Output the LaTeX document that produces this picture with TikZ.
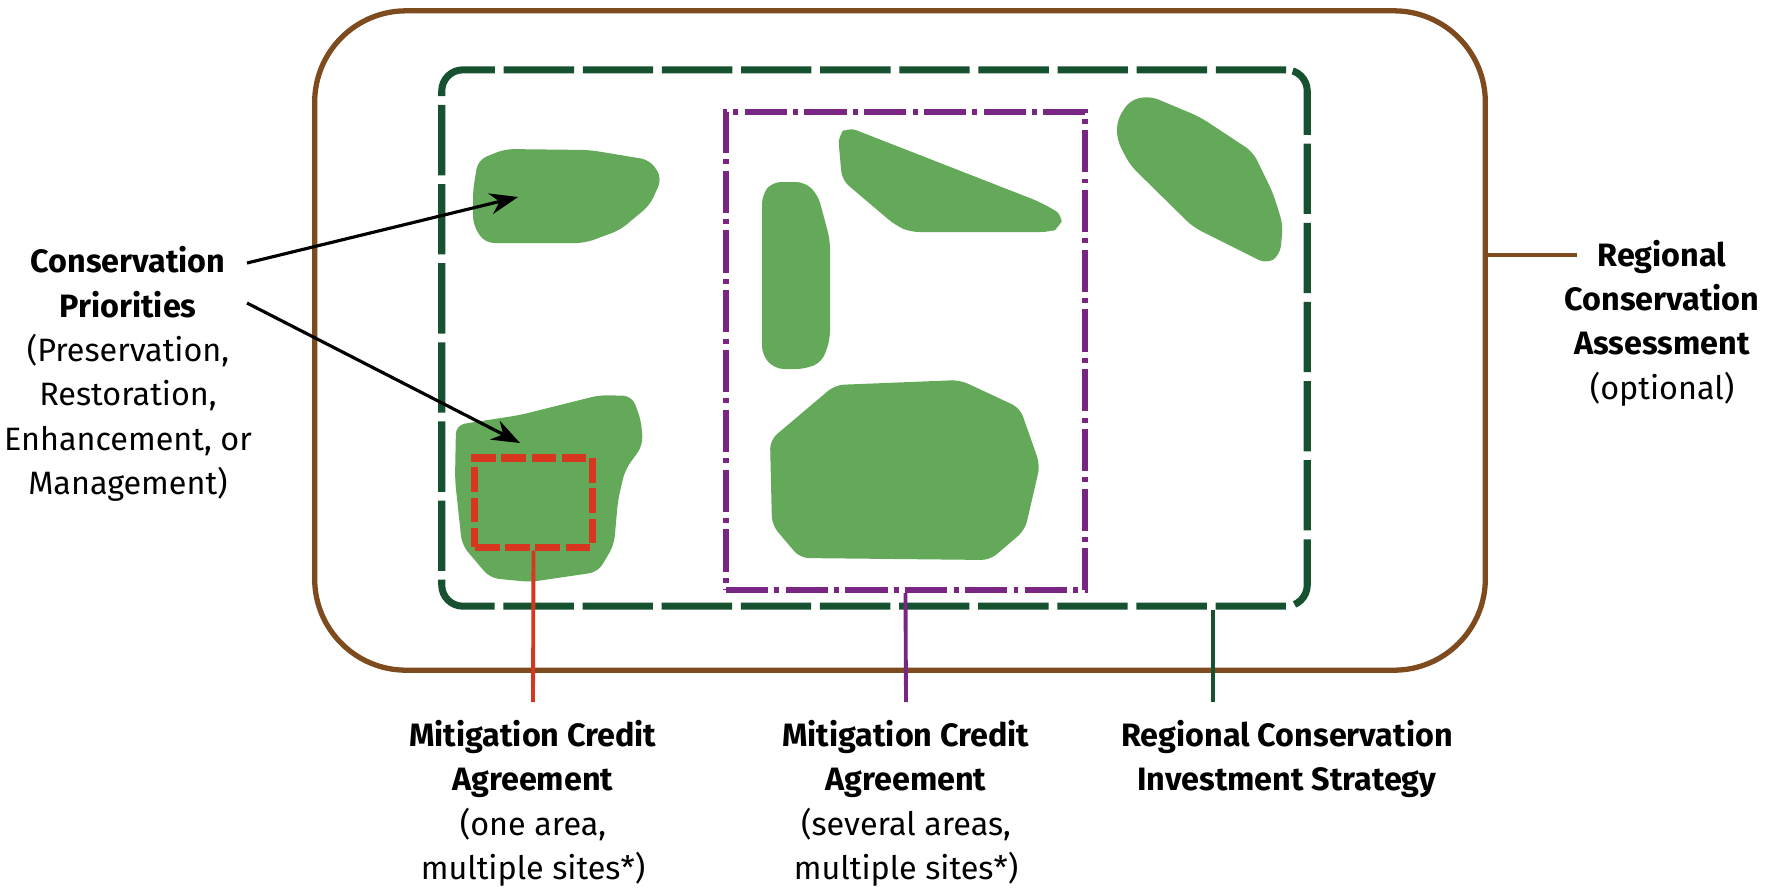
\documentclass[tikz,border=0pt]{standalone}
\usepackage{fontspec}
\setmainfont{Fira Sans}
\usepackage{tikz}
\usetikzlibrary{arrows.meta, positioning}
\definecolor{rcabrown}{RGB}{125,75,30}
\definecolor{rcisgreen}{RGB}{22,82,48}
\definecolor{mcapurple}{RGB}{120,38,130}
\definecolor{mcared}{RGB}{215,55,30}
\definecolor{areagreen}{RGB}{100,168,90}
\tikzset{
    region/.style={draw=rcabrown, line width=1.5pt, rounded corners=26pt}, % the assessment frame
    strategy/.style={draw=rcisgreen, line width=2pt, dash pattern=on 20pt off 2.5pt, rounded corners=6pt}, % the strategy frame
    manyareas/.style={draw=mcapurple, line width=1.7pt, dash pattern=on 12pt off 1.8pt on 1.4pt off 1.8pt}, % several areas
    onearea/.style={draw=mcared, line width=2pt, dash pattern=on 7pt off 1.6pt}, % one area
    area/.style={fill=areagreen, rounded corners=2.5pt}, % conservation areas
    tie/.style={line width=1.1pt}, % connectors to the texts
    pointer/.style={-{Stealth[length=8pt,width=6pt]}, line width=0.9pt}, % arrows
    labeltext/.style={align=center, font=\fontsize{9.2}{12.6}\selectfont, inner sep=0pt, inner ysep=5pt},
}
\begin{document}
\begin{tikzpicture}[x=0.01cm, y=-0.01cm]
\useasboundingbox (0,0) rectangle (1775,890);
% frames
\node[region, minimum width=11.7cm, minimum height=6.59cm] (rca) at (900,340.5) {};
\node[strategy, minimum width=8.65cm, minimum height=5.36cm] (rcis) at (874.5,338) {};
\node[manyareas, minimum width=3.59cm, minimum height=4.78cm] (several) at (905.5,351) {};
% conservation areas
\fill[area] (473,190) -- (478,160) -- (505,149) -- (590,150) -- (650,160) -- (662,178) -- (650,205) -- (620,230) -- (585,243) -- (485,243) -- (473,225) -- cycle;
\fill[area] (456,425) -- (520,415) -- (600,395) -- (632,396) -- (641,420) -- (643,445) -- (625,470) -- (618,500) -- (614,545) -- (598,572) -- (530,582) -- (490,578) -- (462,545) -- (455,480) -- cycle;
\fill[area] (762,195) -- (772,182) -- (805,182) -- (818,195) -- (830,240) -- (830,340) -- (822,362) -- (805,369) -- (775,369) -- (762,355) -- cycle;
\fill[area] (838,135) -- (848,127) -- (1040,202) -- (1063,215) -- (1060,228) -- (1050,232) -- (910,232) -- (895,225) -- (842,180) -- cycle;
\fill[area] (770,440) -- (835,385) -- (960,380) -- (1020,408) -- (1040,465) -- (1025,530) -- (990,560) -- (800,558) -- (772,525) -- cycle;
\fill[area] (1117,120) -- (1130,100) -- (1150,96) -- (1200,117) -- (1253,152) -- (1273,193) -- (1283,225) -- (1280,255) -- (1267,264) -- (1193,227) -- (1130,165) -- (1117,140) -- cycle;
\node[onearea, minimum width=1.17cm, minimum height=0.89cm] (single) at (533.5,502.5) {};
% texts
\node[labeltext] (prio) at (128,374) {\textbf{Conservation}\\\textbf{Priorities}\\(Preservation,\\Restoration,\\Enhancement, or\\Management)};
\node[labeltext] (rcalbl) at (1662,323) {\textbf{Regional}\\\textbf{Conservation}\\\textbf{Assessment}\\(optional)};
\node[labeltext, anchor=north] (mcaone) at (533,702) {\textbf{Mitigation Credit}\\\textbf{Agreement}\\(one area,\\multiple sites*)};
\node[labeltext, anchor=north] (mcamany) at (906,702) {\textbf{Mitigation Credit}\\\textbf{Agreement}\\(several areas,\\multiple sites*)};
\node[labeltext, anchor=north] (rcislbl) at (1287,702) {\textbf{Regional Conservation}\\\textbf{Investment Strategy}};
% connectors
\coordinate (cp1) at (247,263);
\coordinate (cp2) at (247,303);
\coordinate (top) at (518,197);
\coordinate (bottom) at (520,443);
\coordinate (rcistap) at (1213,702);
\coordinate (rcatap) at (1577,255);
\draw[tie, mcared] (single.south) -- (mcaone.north);
\draw[tie, mcapurple] (several.south) -- (mcamany.north);
\draw[tie, rcisgreen] (rcis.south -| rcistap) -- (rcistap);
\draw[tie, rcabrown, line width=1.4pt] (rcatap -| rca.east) -- (rcatap);
\draw[pointer] (cp1) -- (top);
\draw[pointer] (cp2) -- (bottom);
\end{tikzpicture}
\end{document}
